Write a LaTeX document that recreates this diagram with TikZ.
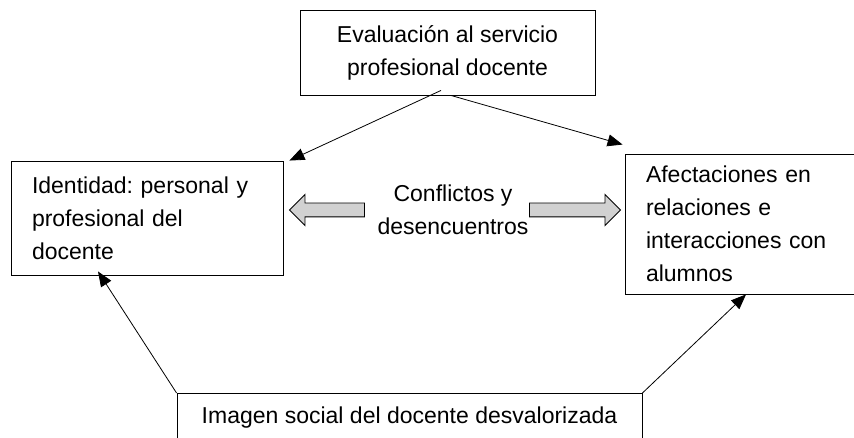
\documentclass[tikz,border=0pt]{standalone}
\usepackage{fontspec}
\setmainfont{Liberation Sans}
\usepackage{tikz}
\usetikzlibrary{arrows.meta,shapes.arrows}

\tikzset{
  caja/.style={draw, line width=0.9pt, inner xsep=21pt, inner ysep=0pt},
  flecha/.style={line width=0.8pt, -{Triangle[length=15pt,width=12pt]}},
  bloque/.style={single arrow, draw, line width=0.9pt, fill=black!18,
    inner xsep=0pt, inner ysep=6.5pt, single arrow head extend=8.5pt,
    single arrow tip angle=90}
}

\begin{document}
\begin{tikzpicture}[x=1pt,y=1pt,yscale=-1,xscale=1]
    \useasboundingbox (0,0) rectangle (854,438);
    \fontsize{23}{33}\selectfont\frenchspacing
    %Shape: Rectangle [evaluacion]
    \node [caja, minimum width=295pt, minimum height=85pt, align=center] (eval) at (447.5,52.5)
      {Evaluación al servicio\\profesional docente};
    %Shape: Rectangle [identidad]
    \node [caja, minimum height=114pt, text width=230pt, align=left] (ident) at (147,218)
      {Identidad: personal y\\profesional del\\docente};
    %Shape: Rectangle [afectaciones]
    \node [caja, minimum height=140pt, text width=200pt, align=left] (afect) at (746,224)
      {Afectaciones en\\relaciones e\\interacciones con\\alumnos};
    %Shape: Rectangle [imagen social]
    \node [caja, minimum width=465pt, minimum height=48pt, anchor=north] (imagen) at (409.5,393)
      {Imagen social del docente desvalorizada};
    % Text Node
    \node [align=center, inner sep=0pt] (conflic) at (453,210) {Conflictos y\\desencuentros};
    %Shape: Right Arrow
    \node [bloque, minimum height=75pt, shape border rotate=180] (flechaizq) at (330.5,210) {};
    \node [bloque, minimum height=91pt] (flechader) at (571.5,210) {};
    %Straight Lines
    \draw [flecha] ([xshift=-6.5pt,yshift=-5pt]eval.south) -- ([xshift=6pt]ident.north east);
    \draw [flecha] ([xshift=3.5pt]eval.south) -- ([xshift=-2pt,yshift=-9pt]afect.north west);
    \draw [flecha] (imagen.north west) -- ([xshift=-49pt,yshift=-4pt]ident.south);
    \draw [flecha] (imagen.north east) -- (afect.south);
\end{tikzpicture}
\end{document}
